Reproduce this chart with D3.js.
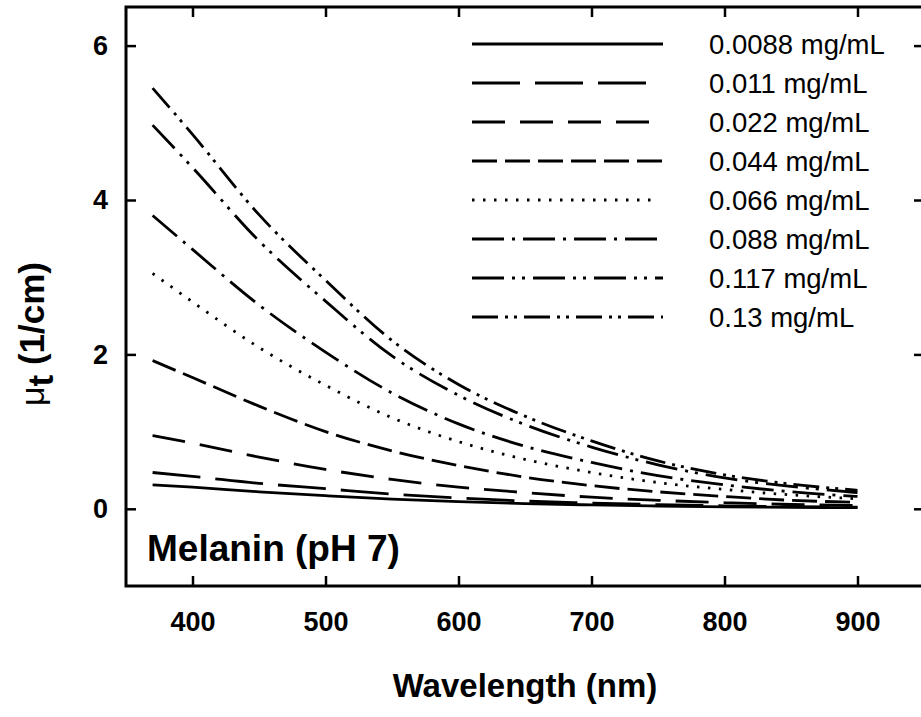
<!DOCTYPE html>
<html>
<head>
<meta charset="utf-8">
<script src="https://cdn.jsdelivr.net/npm/d3@7"></script>
<style>
  body { margin: 0; background: #fff; }
  text { font-family: "Liberation Sans", Arial, sans-serif; fill: #000; }
</style>
</head>
<body>
<div id="chart"></div>
<script>
// Wavelength samples (nm) and mu_t (1/cm)
const wavelengths = [370, 400, 450, 500, 550, 600, 650, 700, 750, 800, 850, 900]
const labels = ["0.0088 mg/mL", "0.011 mg/mL", "0.022 mg/mL", "0.044 mg/mL",
                "0.066 mg/mL", "0.088 mg/mL", "0.117 mg/mL", "0.13 mg/mL"]
const mu0088 = [0.31, 0.28, 0.22, 0.17, 0.125, 0.092, 0.068, 0.05, 0.036, 0.026, 0.019, 0.014]
const mu011  = [0.47, 0.42, 0.33, 0.26, 0.19, 0.14, 0.10, 0.075, 0.054, 0.039, 0.028, 0.021]
const mu022  = [0.95, 0.85, 0.67, 0.51, 0.38, 0.28, 0.21, 0.15, 0.11, 0.08, 0.056, 0.042]
const mu044  = [1.92, 1.70, 1.33, 1.00, 0.75, 0.56, 0.41, 0.30, 0.22, 0.16, 0.11, 0.085]
const mu066  = [3.05, 2.68, 2.09, 1.60, 1.18, 0.87, 0.64, 0.47, 0.34, 0.25, 0.18, 0.13]
const mu088  = [3.80, 3.36, 2.64, 2.03, 1.50, 1.10, 0.81, 0.60, 0.43, 0.31, 0.22, 0.16]
const mu117  = [4.97, 4.42, 3.47, 2.69, 1.98, 1.47, 1.09, 0.80, 0.57, 0.40, 0.29, 0.21]
const mu13   = [5.45, 4.85, 3.81, 2.96, 2.18, 1.61, 1.20, 0.88, 0.62, 0.44, 0.32, 0.24]
const xTicks = [400, 500, 600, 700, 800, 900]
const yTicks = [0, 2, 4, 6]

const series = [mu0088, mu011, mu022, mu044, mu066, mu088, mu117, mu13]
const dashes = [null, "48,15", "33,15", "25,8", "2.5,8.5", "32,8,3,8", "32,8,3,7,3,8", "26,7,3,6,3,7"]
// legend samples stop where their dash pattern ends
const legendLen = [191, 174, 180, 190, 186, 187, 191, 191]

let width = 921
let height = 717

let svg = d3.select("#chart").append("svg")
    .attr("width", width)
    .attr("height", height)

let x = d3.scaleLinear().domain([350, 950]).range([126, 924])
let y = d3.scaleLinear().domain([-1, 6.5]).range([586, 7])

// Axes, ticks pointing inward on all four sides
svg.append("g")
    .attr("transform", "translate(0," + y(-1) + ")")
    .call(d3.axisBottom(x).tickValues(xTicks).tickSizeInner(-10).tickSizeOuter(0).tickPadding(26))
svg.append("g")
    .attr("transform", "translate(" + x(350) + ",0)")
    .call(d3.axisLeft(y).tickValues(yTicks).tickSizeInner(-10).tickSizeOuter(0).tickPadding(18))
svg.append("g")
    .attr("transform", "translate(0," + y(6.5) + ")")
    .call(d3.axisTop(x).tickValues(xTicks).tickSizeInner(-10).tickSizeOuter(0).tickFormat(""))
svg.append("g")
    .attr("transform", "translate(" + x(950) + ",0)")
    .call(d3.axisRight(y).tickValues(yTicks).tickSizeInner(-10).tickSizeOuter(0).tickFormat(""))

svg.selectAll(".domain").remove()
svg.selectAll(".tick line").attr("stroke", "#000").attr("stroke-width", 2.5)
svg.selectAll(".tick text")
    .style("font-size", "27px")
    .style("font-weight", "bold")
    .style("font-family", "'Liberation Sans', Arial, sans-serif")

// Frame
svg.append("rect")
    .attr("x", x(350)).attr("y", y(6.5))
    .attr("width", x(950) - x(350)).attr("height", y(-1) - y(6.5))
    .attr("fill", "none").attr("stroke", "#000").attr("stroke-width", 3)

// Curves
let line = d3.line()
    .x((d, i) => x(wavelengths[i]))
    .y(d => y(d))
    .curve(d3.curveMonotoneX)

svg.selectAll("path.curve")
    .data(series)
    .enter().append("path")
    .attr("class", "curve")
    .attr("d", line)
    .attr("fill", "none")
    .attr("stroke", "#000")
    .attr("stroke-width", 2.8)
    .attr("stroke-dasharray", (d, i) => dashes[i])

// Legend
let legend = svg.append("g")
let rows = legend.selectAll("g")
    .data(labels)
    .enter().append("g")
    .attr("transform", (d, i) => "translate(0," + (44 + i * 39) + ")")

rows.append("line")
    .attr("x1", 472).attr("x2", (d, i) => 472 + legendLen[i])
    .attr("y1", 0).attr("y2", 0)
    .attr("stroke", "#000")
    .attr("stroke-width", 2.8)
    .attr("stroke-dasharray", (d, i) => dashes[i])

rows.append("text")
    .attr("x", 709)
    .attr("y", 10)
    .style("font-size", "27.5px")
    .text(d => d)

// Annotation inside the plot
svg.append("text")
    .attr("x", 147)
    .attr("y", 561)
    .style("font-size", "37px")
    .style("font-weight", "bold")
    .text("Melanin (pH 7)")

// Axis titles
svg.append("text")
    .attr("x", x(650))
    .attr("y", 697)
    .attr("text-anchor", "middle")
    .style("font-size", "33px")
    .style("font-weight", "bold")
    .text("Wavelength (nm)")

let yTitle = svg.append("text")
    .attr("transform", "translate(44,334) rotate(-90)")
    .attr("text-anchor", "middle")
    .style("font-size", "35px")
    .style("font-weight", "bold")
yTitle.append("tspan").style("font-weight", "normal").style("font-size", "34px").text("μ")
yTitle.append("tspan").attr("dy", 9).text("t")
yTitle.append("tspan").attr("dy", -9).text(" (1/cm)")
</script>
</body>
</html>
